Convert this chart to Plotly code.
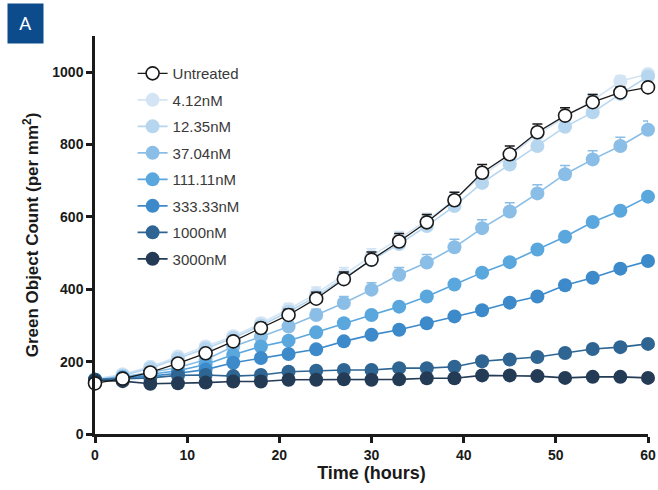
import plotly.graph_objects as go

# Sampling times (hours)
time_h = [0, 3, 6, 9, 12, 15, 18, 21, 24, 27, 30, 33, 36, 39, 42, 45, 48, 51, 54, 57, 60]

# Green object count (per mm^2) for each treatment
untreated = [140, 153, 170, 195, 223, 256, 293, 329, 374, 428, 482, 532, 585, 646, 722, 773, 834, 880, 917, 944, 958]
nm_4_12 = [152, 165, 186, 214, 242, 270, 306, 345, 388, 440, 492, 540, 590, 648, 715, 768, 828, 875, 922, 975, 995]
nm_12_35 = [150, 162, 182, 208, 236, 265, 300, 338, 380, 432, 480, 525, 575, 630, 694, 745, 796, 849, 889, 940, 988]
nm_37_04 = [150, 158, 170, 184, 205, 242, 269, 297, 329, 362, 399, 440, 474, 516, 569, 615, 665, 718, 759, 796, 841]
nm_111_11 = [150, 156, 165, 175, 192, 219, 242, 258, 281, 306, 329, 352, 380, 413, 446, 475, 510, 545, 586, 617, 656]
nm_333_33 = [150, 155, 160, 168, 178, 197, 210, 221, 234, 256, 274, 288, 306, 325, 342, 363, 380, 411, 432, 457, 478]
nm_1000 = [150, 152, 155, 162, 163, 160, 163, 172, 175, 177, 177, 182, 182, 186, 201, 206, 213, 224, 235, 240, 249]
nm_3000 = [148, 146, 139, 140, 142, 145, 145, 150, 150, 151, 150, 151, 154, 154, 162, 162, 160, 155, 158, 158, 155]

# Upper SEM
err_untreated = [4, 5, 6, 8, 10, 12, 14, 16, 18, 20, 21, 22, 22, 22, 23, 23, 23, 22, 21, 15, 12]
err_4_12 = [4, 5, 6, 8, 10, 12, 14, 16, 18, 20, 20, 20, 20, 20, 20, 20, 20, 20, 18, 15, 12]
err_37_04 = [3, 4, 5, 6, 8, 10, 12, 14, 16, 18, 19, 20, 22, 22, 23, 24, 24, 24, 24, 24, 24]

series = [
    ("4.12nM", nm_4_12, "#d3e5f5", err_4_12),
    ("12.35nM", nm_12_35, "#b6d6ef", None),
    ("37.04nM", nm_37_04, "#8bbee6", err_37_04),
    ("111.11nM", nm_111_11, "#5aa7de", None),
    ("333.33nM", nm_333_33, "#3d8acb", None),
    ("1000nM", nm_1000, "#2e6592", None),
    ("3000nM", nm_3000, "#243b55", None),
]

fig = go.Figure()

for rank, (name, vals, color, err) in enumerate(series, start=2):
    kw = {}
    if err is not None:
        kw["error_y"] = dict(type="data", array=err, arrayminus=[0] * len(err),
                             symmetric=False, color=color, thickness=1.5, width=5)
    fig.add_trace(go.Scatter(
        x=time_h, y=vals, name=name, mode="lines+markers",
        line=dict(color=color, width=1.6),
        marker=dict(color=color, size=14, line=dict(width=0)),
        legendrank=rank, legendgroup=name, cliponaxis=False, **kw))

fig.add_trace(go.Scatter(
    x=time_h, y=untreated, name="Untreated", mode="lines+markers",
    line=dict(color="#1a1a1a", width=1.3),
    marker=dict(color="white", size=13, line=dict(color="#1a1a1a", width=1.6)),
    error_y=dict(type="data", array=err_untreated, arrayminus=[0] * len(err_untreated),
                 symmetric=False, color="#1a1a1a", thickness=1.5, width=5),
    legendrank=1, legendgroup="Untreated", cliponaxis=False))

axis_font = dict(family="Liberation Sans, Arial, sans-serif", size=14, color="#1a1a1a", weight="bold")
ytitle_font = dict(family="Liberation Sans, Arial, sans-serif", size=17, color="#1a1a1a", weight="bold")
xtitle_font = dict(family="Liberation Sans, Arial, sans-serif", size=18, color="#1a1a1a", weight="bold")

fig.update_layout(
    width=658, height=490,
    margin=dict(l=95, r=10, t=36, b=56),
    paper_bgcolor="white", plot_bgcolor="white",
    showlegend=True,
    legend=dict(x=0.068, y=0.947, xanchor="left", yanchor="top",
                bgcolor="rgba(0,0,0,0)", itemwidth=30, tracegroupgap=4,
                font=dict(family="Liberation Sans, Arial, sans-serif", size=15, color="#3a3a3a")),
    xaxis=dict(range=[0, 60], tickvals=[0, 10, 20, 30, 40, 50, 60],
               showgrid=False, zeroline=False, showline=True, linewidth=2.5,
               linecolor="#1a1a1a", ticks="outside", ticklen=6, tickwidth=2.5,
               tickcolor="#1a1a1a", tickfont=axis_font,
               title=dict(text="Time (hours)", font=xtitle_font, standoff=4),
               automargin=False),
    yaxis=dict(range=[0, 1100], tickvals=[0, 200, 400, 600, 800, 1000],
               showgrid=False, zeroline=False, showline=True, linewidth=2.5,
               linecolor="#1a1a1a", ticks="outside", ticklen=6, tickwidth=2.5,
               tickcolor="#1a1a1a", tickfont=axis_font,
               title=dict(text="Green Object Count (per mm<sup>2</sup>)", font=ytitle_font, standoff=10),
               automargin=False),
    annotations=[dict(
        text="A", xref="paper", yref="paper",
        x=(7 - 95) / 553, y=(434 - 3) / 398, xanchor="left", yanchor="top",
        showarrow=False, bgcolor="#0c4c8c", width=35, height=39, borderpad=0,
        font=dict(family="Roboto, sans-serif", size=19, color="white"))],
)

fig.write_html("out.html")
